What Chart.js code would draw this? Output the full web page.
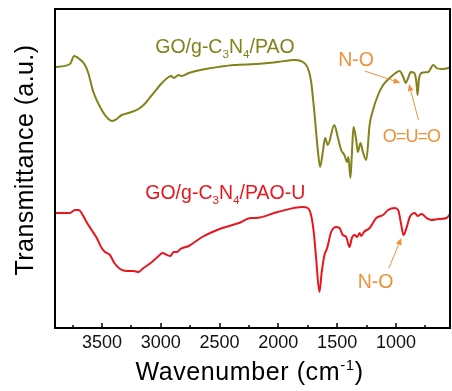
<!DOCTYPE html>
<html>
<head>
<meta charset="utf-8">
<script src="https://cdn.jsdelivr.net/npm/chart.js@4.4.1/dist/chart.umd.min.js"></script>
<style>
  html, body { margin: 0; padding: 0; background: #fff; }
  #wrap { width: 452px; height: 391px; }
</style>
</head>
<body>
<div id="wrap"><canvas id="ftir" width="452" height="391"></canvas></div>
<script>
// FTIR spectra, wavenumber in cm-1, transmittance in arbitrary units
const paoWavenumber = [3900, 3773, 3737, 3716, 3703, 3645, 3617, 3574, 3503, 3446, 3412, 3375, 3332, 3275, 3190, 3147, 3075, 2990, 2933, 2910, 2890, 2848, 2825, 2762, 2663, 2620, 2378, 2192, 2007, 1865, 1808, 1750, 1722, 1694, 1666, 1645, 1622, 1602, 1580, 1524, 1495, 1466, 1438, 1415, 1404, 1387, 1375, 1361, 1338, 1324, 1301, 1281, 1252, 1224, 1195, 1152, 1109, 1053, 1003, 968, 938, 916, 896, 873, 844, 825, 816, 805, 782, 725, 682, 654, 611, 554, 540];
const paoSignal = [261, 264, 272, 271, 270, 263, 255, 236, 218, 209, 207, 209, 213, 215, 219, 223, 233, 245, 251, 252, 250, 253, 252, 255, 258, 259, 263, 264, 266, 268, 267, 260, 247, 216, 180, 161, 176, 190, 183, 203, 191, 178, 173, 166, 171, 150, 173, 201, 188, 176, 185, 176, 168, 203, 218, 233, 243, 250, 255, 257, 251, 245, 250, 256, 255, 245, 233, 248, 255, 256, 263, 260, 259, 260, 261];

const paoUWavenumber = [3900, 3773, 3731, 3697, 3674, 3632, 3588, 3545, 3503, 3474, 3432, 3395, 3346, 3289, 3232, 3190, 3147, 3075, 3019, 2985, 2947, 2919, 2891, 2862, 2833, 2762, 2648, 2477, 2335, 2235, 2192, 2007, 1793, 1750, 1722, 1699, 1679, 1651, 1631, 1608, 1585, 1551, 1509, 1480, 1452, 1423, 1395, 1375, 1352, 1329, 1309, 1295, 1272, 1224, 1167, 1109, 1067, 1010, 981, 959, 936, 910, 882, 839, 816, 782, 739, 697, 640, 569, 540];
const paoUSignal = [115, 115, 118, 118, 115, 106, 98, 90, 80, 76, 73, 65, 59, 57, 57, 56, 60, 66, 72, 75, 73, 72, 76, 76, 79, 82, 91, 100, 105, 110, 110, 116, 121, 120, 113, 96, 70, 36, 56, 73, 80, 96, 101, 100, 93, 91, 81, 90, 93, 91, 95, 92, 96, 100, 110, 113, 118, 120, 118, 106, 93, 100, 111, 115, 112, 114, 110, 108, 109, 110, 114];

const xTickValues = [3500, 3000, 2500, 2000, 1500, 1000];
const xMinorValues = [3750, 3250, 2750, 2250, 1750, 1250, 750];

const OLIVE = "#82821a";
const RED = "#e8161e";
const ORANGE = "#f0913a";
const FONT = "'Liberation Sans', Arial, sans-serif";

// band annotations: [tail wavenumber, tail value, head wavenumber, head value]
const bandArrows = [
  [1265, 257, 962, 245],
  [808, 208, 889, 244],
  [1060, 60, 953, 90],
];
const bandLabels = [
  {text: "N-O", wn: 1491, val: 262, size: 19.5, spacing: 0},
  {text: "O=U=O", wn: 1111, val: 186, size: 18, spacing: -1},
  {text: "N-O", wn: 1325, val: 40, size: 19.5, spacing: 0},
];

const toPoints = (xs, ys) => xs.map((x, i) => ({x, y: ys[i]}));

// text with sub/superscript runs
function drawRich(ctx, parts, x, y, size, color) {
  ctx.fillStyle = color;
  ctx.textBaseline = "alphabetic";
  ctx.textAlign = "left";
  let cx = x;
  parts.forEach(p => {
    const s = p.sub || p.sup ? size * 0.6 : size;
    ctx.font = `${s}px ${FONT}`;
    const dy = p.sub ? size * 0.27 : p.sup ? -size * 0.42 : 0;
    ctx.fillText(p.t, cx, y + dy);
    cx += ctx.measureText(p.t).width;
  });
  return cx - x;
}

function richWidth(ctx, parts, size) {
  let w = 0;
  parts.forEach(p => {
    const s = p.sub || p.sup ? size * 0.6 : size;
    ctx.font = `${s}px ${FONT}`;
    w += ctx.measureText(p.t).width;
  });
  return w;
}

function arrow(ctx, x0, y0, x1, y1) {
  const a = Math.atan2(y1 - y0, x1 - x0);
  const len = 7, half = 3;
  ctx.beginPath();
  ctx.moveTo(x0, y0);
  ctx.lineTo(x1 - Math.cos(a) * len, y1 - Math.sin(a) * len);
  ctx.stroke();
  ctx.beginPath();
  ctx.moveTo(x1, y1);
  ctx.lineTo(x1 - Math.cos(a) * len - Math.sin(a) * half, y1 - Math.sin(a) * len + Math.cos(a) * half);
  ctx.lineTo(x1 - Math.cos(a) * len + Math.sin(a) * half, y1 - Math.sin(a) * len - Math.cos(a) * half);
  ctx.closePath();
  ctx.fill();
}

const decorations = {
  id: "decorations",
  afterDatasetsDraw(chart) {
    const {ctx, chartArea: area, scales: {x, y}} = chart;
    ctx.save();

    // frame
    ctx.strokeStyle = "#000";
    ctx.lineWidth = 2;
    ctx.strokeRect(area.left, area.top, area.right - area.left, area.bottom - area.top);

    // inward ticks on the wavenumber axis
    ctx.lineWidth = 1.5;
    ctx.beginPath();
    xTickValues.forEach(v => {
      const px = Math.round(x.getPixelForValue(v));
      ctx.moveTo(px, area.bottom);
      ctx.lineTo(px, area.bottom - 5);
    });
    xMinorValues.forEach(v => {
      const px = Math.round(x.getPixelForValue(v));
      ctx.moveTo(px, area.bottom);
      ctx.lineTo(px, area.bottom - 3);
    });
    ctx.stroke();

    // series labels
    drawRich(ctx, [{t: "GO/g-C"}, {t: "3", sub: true}, {t: "N"}, {t: "4", sub: true}, {t: "/PAO"}],
      x.getPixelForValue(3047), y.getPixelForValue(275), 19.5, OLIVE);
    drawRich(ctx, [{t: "GO/g-C"}, {t: "3", sub: true}, {t: "N"}, {t: "4", sub: true}, {t: "/PAO-U"}],
      x.getPixelForValue(3132), y.getPixelForValue(129.5), 19.5, RED);

    // band assignments
    ctx.strokeStyle = ORANGE;
    ctx.fillStyle = ORANGE;
    ctx.lineWidth = 1;
    bandArrows.forEach(([w0, v0, w1, v1]) => {
      arrow(ctx, x.getPixelForValue(w0), y.getPixelForValue(v0), x.getPixelForValue(w1), y.getPixelForValue(v1));
    });
    ctx.textAlign = "left";
    ctx.textBaseline = "alphabetic";
    bandLabels.forEach(l => {
      ctx.font = `${l.size}px ${FONT}`;
      ctx.letterSpacing = `${l.spacing}px`;
      ctx.fillText(l.text, x.getPixelForValue(l.wn), y.getPixelForValue(l.val));
    });
    ctx.letterSpacing = "0px";

    // axis titles
    const xTitle = [{t: "Wavenumber (cm"}, {t: "-1", sup: true}, {t: ")"}];
    ctx.letterSpacing = "0.6px";
    const tw = richWidth(ctx, xTitle, 25);
    drawRich(ctx, xTitle, (area.left + area.right) / 2 - 3 - tw / 2, 380, 25, "#000");
    ctx.letterSpacing = "0px";

    ctx.save();
    ctx.translate(33, 160);
    ctx.rotate(-Math.PI / 2);
    ctx.font = `25px ${FONT}`;
    ctx.letterSpacing = "0.4px";
    ctx.textAlign = "center";
    ctx.fillStyle = "#000";
    ctx.fillText("Transmittance (a.u.)", 0, 0);
    ctx.restore();

    ctx.restore();
  },
};

new Chart(document.getElementById("ftir"), {
  type: "line",
  data: {
    datasets: [
      {
        label: "GO/g-C3N4/PAO",
        data: toPoints(paoWavenumber, paoSignal),
        borderColor: OLIVE,
        borderWidth: 2,
        pointRadius: 0,
        cubicInterpolationMode: "monotone",
      },
      {
        label: "GO/g-C3N4/PAO-U",
        data: toPoints(paoUWavenumber, paoUSignal),
        borderColor: RED,
        borderWidth: 2,
        pointRadius: 0,
        cubicInterpolationMode: "monotone",
      },
    ],
  },
  options: {
    responsive: false,
    animation: false,
    devicePixelRatio: 1,
    layout: {padding: {top: 9, right: 2, left: 0, bottom: 0}},
    plugins: {legend: {display: false}, tooltip: {enabled: false}},
    scales: {
      x: {
        type: "linear",
        reverse: true,
        min: 540,
        max: 3900,
        grid: {display: false},
        border: {display: false},
        afterBuildTicks: scale => { scale.ticks = xTickValues.map(value => ({value})); },
        afterFit: scale => { scale.height = 63; },
        ticks: {
          autoSkip: false,
          maxRotation: 0,
          padding: -4,
          color: "#111",
          font: {family: FONT, size: 18},
          callback: value => String(value),
        },
      },
      y: {
        min: 0,
        max: 319,
        grid: {display: false},
        border: {display: false},
        ticks: {display: false},
        afterFit: scale => { scale.width = 55; },
      },
    },
  },
  plugins: [decorations],
});
</script>
</body>
</html>
